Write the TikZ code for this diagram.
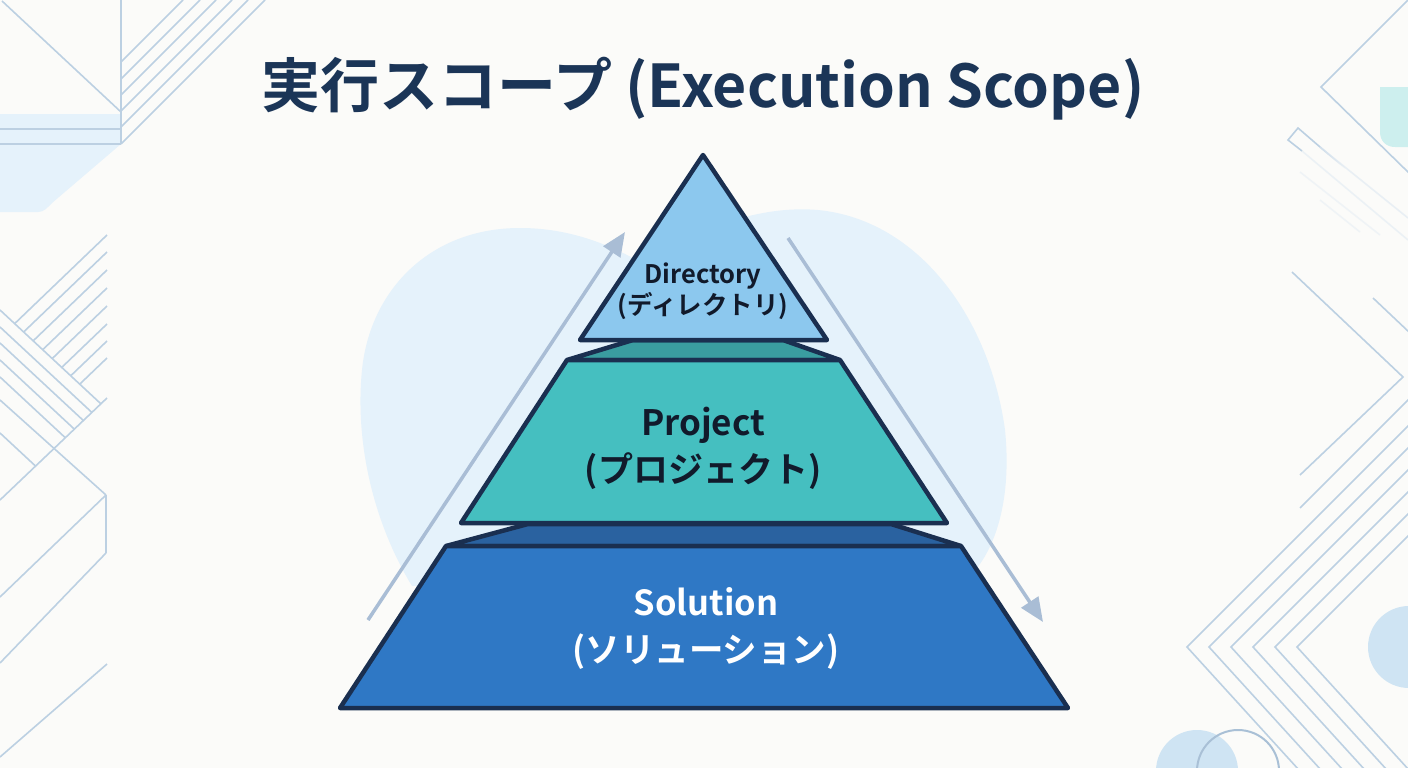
\documentclass[tikz,border=0pt]{standalone}
\usepackage{fontspec}
\setmainfont{Noto Sans CJK JP}[BoldFont={Noto Sans CJK JP Bold}]
\usetikzlibrary{arrows.meta,fadings}
\definecolor{bgc}{HTML}{FBFBF9}
\definecolor{navy}{HTML}{1A2F50}
\definecolor{titlec}{HTML}{1B3557}
\definecolor{decoc}{HTML}{BCD0E2}
\definecolor{decofaint}{HTML}{DDE8F2}
\definecolor{blobc}{HTML}{E5F2FB}
\definecolor{tealrect}{HTML}{CDEFEE}
\definecolor{circc}{HTML}{CFE4F3}
\definecolor{circline}{HTML}{A9C0D6}
\definecolor{arrowc}{HTML}{A9BDD5}
\definecolor{dirc}{HTML}{8CC8EE}
\definecolor{projc}{HTML}{45BFC0}
\definecolor{projband}{HTML}{3A9DA0}
\definecolor{solc}{HTML}{2F78C5}
\definecolor{solband}{HTML}{2A62A0}
\definecolor{textdark}{HTML}{111A2B}
\begin{document}
\begin{tikzpicture}[x=1pt,y=-1pt,
  deco/.style={draw=decoc,line width=1.6pt},
  faint/.style={draw=decofaint,line width=1.6pt},
  tier/.style={draw=navy,line width=4.5pt,line join=round},
  flow/.style={draw=arrowc,line width=3.5pt,-{Triangle[length=24pt,width=20pt]}},
  lbl/.style={align=center,font=\bfseries}]
\useasboundingbox (0,0) rectangle (1408,768);
\clip (0,0) rectangle (1408,768);
\fill[bgc] (0,0) rectangle (1408,768);

% background blob
\fill[blobc] (412,586) .. controls (372,520) and (355,440) .. (362,370)
  .. controls (370,290) and (430,228) .. (520,228)
  .. controls (570,228) and (610,245) .. (640,262)
  .. controls (700,228) and (760,205) .. (818,210)
  .. controls (920,220) and (990,320) .. (1005,430)
  .. controls (1012,500) and (995,545) .. (977,568) -- cycle;

% ---------- left decorations ----------
\fill[blobc] (0,114) -- (121,114) -- (121,144) -- (52,203)
  .. controls (47,208) and (44,212) .. (38,212) -- (0,212) -- cycle;
\draw[deco] (121,0) -- (121,144);
\draw[deco] (0,129) -- (121,129);
\draw[deco] (0,144) -- (121,144);
\draw[deco] (2,1) -- (121,112);
\foreach \y in {62,79,95,111,127,144} {
  \draw[deco] (121,\y) -- (121+\y,0);
}
% hatched block
\foreach \y in {235,252,270,288,306,324,341,358} {
  \pgfmathsetmacro{\xs}{(\y-207.3)/1.89}
  \pgfmathsetmacro{\ys}{310+0.93*\xs}
  \draw[deco] (\xs,\ys) -- (107,\y);
}
\foreach \s in {310,327,343,360,377,433} {
  \pgfmathsetmacro{\xe}{(500-\s)/1.883}
  \pgfmathsetmacro{\ye}{\s+0.93*\xe}
  \draw[deco] (0,\s) -- (\xe,\ye);
}
\draw[deco] (0,400) -- (106,495);
\draw[deco] (0,500) -- (107,398);
\draw[deco] (106,495) -- (106,553);
\draw[deco] (106,495) -- (0,597);
\draw[deco] (106,553) -- (0,663);
\draw[deco] (107,664) -- (0,757);

% ---------- right decorations ----------
\fill[tealrect] (1430,87) -- (1380,87) -- (1380,132)
  .. controls (1380,141) and (1386,147) .. (1395,147) -- (1430,147) -- cycle;
\draw[deco] (1410,-2) -- (1321,87) -- (1410,174);
\draw[deco, line join=miter] (1320,147) -- (1298,128) -- (1288,140) -- (1302,151);
\draw[deco, path fading=east] (1320,147) -- (1345,168);
\draw[faint, opacity=.6] (1320,147) -- (1408,218);
\draw[faint, opacity=.5] (1302,151) -- (1408,240);
\draw[faint, opacity=.4] (1300,172) -- (1380,235);
\draw[faint, opacity=.4] (1320,200) -- (1360,232);
\draw[deco] (1292,272) -- (1403,377) -- (1300,475);
\draw[deco] (1300,508) -- (1410,398);
\draw[deco] (1373,298) -- (1410,333);
\foreach \xv in {1187,1209,1231,1253,1275,1297} {
  \draw[deco] (1410,{647-(1410-\xv)}) -- (\xv,647) -- ({\xv+112},770);
}
\fill[circc] (1409,647) circle[radius=41pt];
\fill[circc] (1197,771) circle[radius=41pt];
\draw[draw=circline,line width=2pt] (1238,771) circle[radius=41pt];

% ---------- flow arrows ----------
\coordinate (upA) at (368,620);
\coordinate (upB) at (625,232);
\coordinate (dnA) at (788,238);
\coordinate (dnB) at (1043,622);
\draw[flow] (upA) -- (upB);
\draw[flow] (dnA) -- (dnB);

% ---------- pyramid ----------
\filldraw[tier, fill=solband] (528,524) -- (891,524) -- (961,546) -- (446,546) -- cycle;
\filldraw[tier, fill=solc] (446,546) -- (961,546) -- (1068,708) -- (340,708) -- cycle;
\filldraw[tier, fill=projband] (633,340) -- (783,340) -- (840,360) -- (567,360) -- cycle;
\filldraw[tier, fill=projc] (567,360) -- (840,360) -- (947,523) -- (461,523) -- cycle;
\filldraw[tier, fill=dirc] (703,155) -- (827,340) -- (580,340) -- cycle;

\node[lbl, text=textdark, font=\bfseries\fontsize{25.5}{31}\selectfont] (dir) at (703,291) {Directory\\(ディレクトリ)};
\node[lbl, text=textdark, font=\bfseries\fontsize{35}{47}\selectfont] (proj) at (703,448) {Project\\(プロジェクト)};
\node[lbl, text=white, font=\bfseries\fontsize{34.5}{47}\selectfont] (sol) at (706,628) {Solution\\(ソリューション)};

% ---------- title ----------
\node[text=titlec, font=\bfseries\fontsize{59}{63}\selectfont] (title) at (703,89) {実行スコープ (Execution Scope)};
\end{tikzpicture}
\end{document}
